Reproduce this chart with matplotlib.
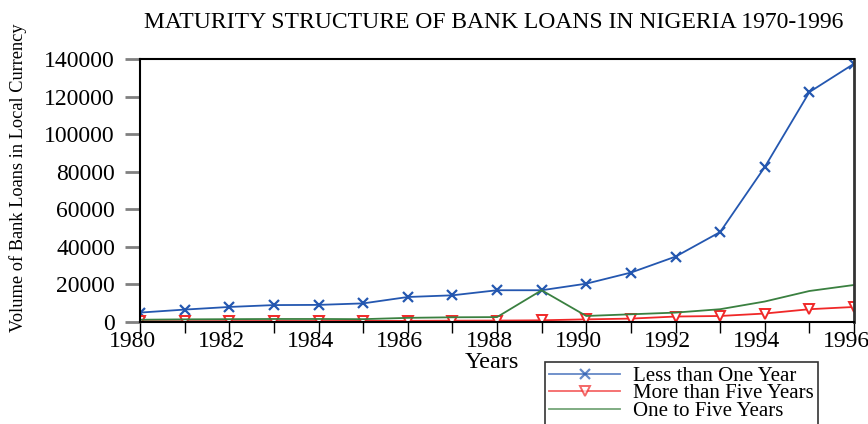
import matplotlib
matplotlib.use("Agg")
import matplotlib.pyplot as plt
import matplotlib.transforms as mtransforms

years = list(range(1980, 1997))

# loans in local currency
less_than_one = [5000, 6600, 8000, 9000, 9100, 9900, 13300, 14200, 16900,
                 16900, 20400, 26300, 34800, 47900, 82500, 122400, 137500]
more_than_five = [400, 400, 450, 500, 500, 550, 600, 700, 750,
                  900, 1400, 1800, 2900, 3200, 4500, 6800, 8000]
one_to_five = [1200, 1400, 1500, 1600, 1600, 1500, 2200, 2500, 2600,
               16900, 3200, 4100, 5000, 6800, 10900, 16500, 19700]

xticks = list(range(1980, 1997, 2))
yticks = list(range(0, 140001, 20000))

plt.rcParams['font.family'] = ['Liberation Serif', 'DejaVu Serif']

fig = plt.figure(figsize=(8.68, 4.24), dpi=100)
ax = fig.add_axes([0.1613, 0.2406, 0.8226, 0.6202])

ax.plot(years, less_than_one, color='#2457b0', lw=1.3, marker='x',
        ms=7.5, mew=1.6, label='Less than One Year')
ax.plot(years, more_than_five, color='#f02828', lw=1.3, marker='v',
        ms=7, mfc='white', mec='#f02828', mew=1.4, label='More than Five Years')
ax.plot(years, one_to_five, color='#3a8040', lw=1.3, label='One to Five Years')

ax.set_xlim(1980, 1996)
ax.set_ylim(0, 140000)
ax.set_xticks(years, minor=True)
ax.set_xticks(xticks)
ax.set_xticklabels([str(y) for y in xticks])
ax.set_yticks(yticks)
ax.set_yticklabels([str(v) for v in yticks])

ax.tick_params(axis='y', direction='out', length=11, width=2, color='#808080',
               labelsize=17, pad=7)
ax.tick_params(axis='x', which='both', direction='out', length=8, width=1,
               color='black', labelsize=17, pad=1)
# year labels sit a little left of their ticks in the original
shift = mtransforms.ScaledTranslation(-0.08, 0.03, fig.dpi_scale_trans)
for lab in ax.get_xticklabels():
    lab.set_transform(lab.get_transform() + shift)
for s in ax.spines.values():
    s.set_linewidth(1.5)
ax.spines['right'].set_color('#333333')
ax.spines['right'].set_linewidth(2)

fig.text(0.569, 0.948, 'MATURITY STRUCTURE OF BANK LOANS IN NIGERIA 1970-1996',
         ha='center', va='center', fontsize=17)
fig.text(0.021, 0.58, 'Volume of Bank Loans in Local Currency', rotation=90,
         ha='center', va='center', fontsize=13.2)
fig.text(0.567, 0.146, 'Years', ha='center', va='center', fontsize=17.5)

leg = fig.legend(loc='upper left', bbox_to_anchor=(0.628, 0.146),
                 fontsize=15, frameon=True, fancybox=False, edgecolor='black',
                 handlelength=3.4, borderpad=0.2, labelspacing=-0.1,
                 handletextpad=0.6, borderaxespad=0)
leg.get_frame().set_linewidth(1.2)
for h in leg.legend_handles:
    h.set_alpha(0.7)

fig.savefig('out.png', dpi=100)
